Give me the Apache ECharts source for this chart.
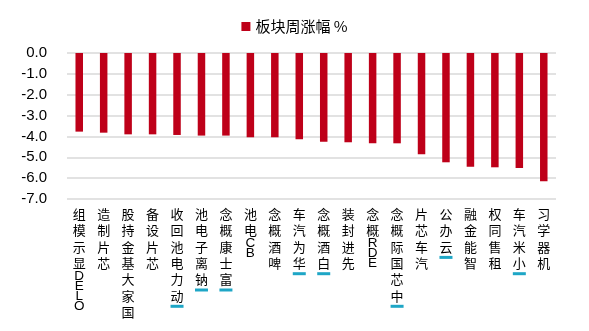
<!DOCTYPE html>
<html>
<head>
<meta charset="utf-8">
<script src="https://cdn.jsdelivr.net/npm/echarts@6/dist/echarts.min.js"></script>
<style>html,body{margin:0;padding:0;background:#fff}#c{width:589px;height:331px}</style>
</head>
<body>
<div id="c"></div>
<script>
const categories = ['OLED显示模组','芯片制造','国家大基金持股','芯片设备','动力电池回收','钠离子电池','富士康概念','BC电池','啤酒概念','华为汽车','白酒概念','先进封装','EDR概念','中芯国际概念','汽车芯片','云办公','智能金融','租售同权','小米汽车','机器学习'];
const weeklyChange = [-3.77,-3.82,-3.90,-3.90,-3.93,-3.96,-3.96,-4.04,-4.04,-4.14,-4.25,-4.28,-4.33,-4.33,-4.86,-5.24,-5.45,-5.48,-5.51,-6.15];
const marked = ['动力电池回收','钠离子电池','富士康概念','华为汽车','白酒概念','中芯国际概念','云办公','小米汽车'];
const seriesName = '板块周涨幅 %';
const yTicks = {min: -7, max: 0, interval: 1};

function stackLabel(name) {
  const chars = Array.from(name).reverse();
  const lines = chars.map(ch => (/[A-Za-z0-9]/.test(ch) ? '{l|' + ch + '}' : '{c|' + ch + '}'));
  if (marked.indexOf(name) >= 0) lines.push('{m| }');
  return lines.join('\n');
}

const chart = echarts.init(document.getElementById('c'), null, {renderer: 'canvas'});
chart.setOption({
  animation: false,
  backgroundColor: '#fff',
  legend: {
    top: 14, left: 'center',
    icon: 'rect', itemWidth: 9, itemHeight: 9, itemGap: 6,
    textStyle: {fontSize: 15, color: '#000', fontFamily: 'Noto Sans CJK SC'},
    data: [seriesName]
  },
  grid: {left: 67, right: 33, top: 53, bottom: 132},
  xAxis: {
    type: 'category',
    data: categories,
    position: 'bottom',
    axisLine: {show: false},
    axisTick: {show: false},
    axisLabel: {
      interval: 0,
      margin: 7,
      formatter: stackLabel,
      rich: {
        c: {fontSize: 13, lineHeight: 16.3, color: '#000', fontFamily: 'Noto Sans CJK SC'},
        l: {fontSize: 13.5, lineHeight: 10, color: '#000', fontFamily: 'Liberation Sans'},
        m: {fontSize: 2, lineHeight: 5, width: 13, height: 3, backgroundColor: '#1ea6c6'}
      }
    }
  },
  yAxis: {
    type: 'value',
    min: yTicks.min, max: yTicks.max, interval: yTicks.interval,
    axisLine: {show: false},
    axisTick: {show: false},
    splitLine: {lineStyle: {color: '#d9d9d9', width: 1.5}},
    axisLabel: {
      margin: 20,
      fontSize: 15,
      color: '#000',
      fontFamily: 'Liberation Sans',
      formatter: v => v.toFixed(1)
    }
  },
  series: [{
    name: seriesName,
    type: 'bar',
    data: weeklyChange,
    barWidth: 7.5,
    itemStyle: {color: '#be0019'}
  }]
});
</script>
</body>
</html>
